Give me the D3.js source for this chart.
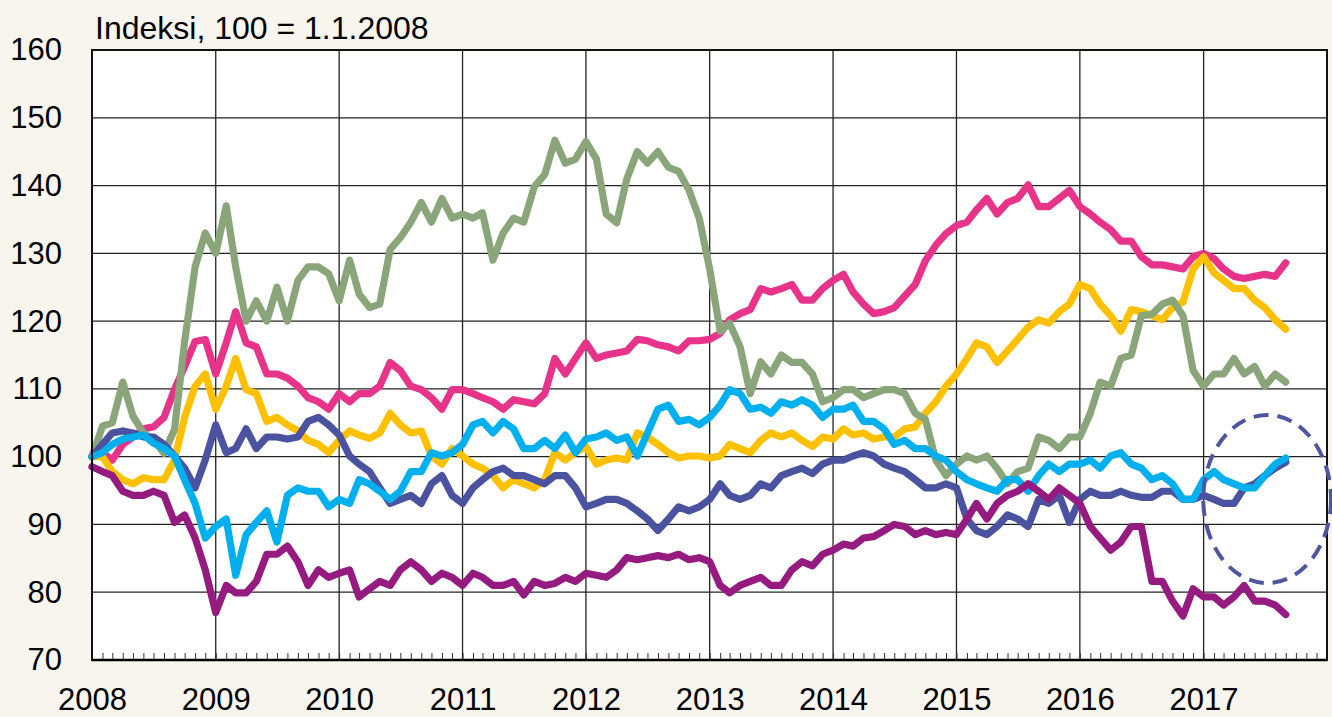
<!DOCTYPE html>
<html>
<head>
<meta charset="utf-8">
<script src="https://cdn.jsdelivr.net/npm/d3@7"></script>
<style>
  html, body { margin: 0; padding: 0; background: #f8f4ee; }
  svg { display: block; font-family: "Liberation Sans", Arial, sans-serif; }
</style>
</head>
<body>
<svg id="chart" width="1332" height="717"></svg>
<script>
// ---- Data (monthly readings, index 100 = 1.1.2008), first value = Jan 2008 ----
const startDate = new Date(2008, 0, 1);
const endDate = new Date(2018, 0, 1);
const yTicks = [70, 80, 90, 100, 110, 120, 130, 140, 150, 160];
const yearLabels = ["2008","2009","2010","2011","2012","2013","2014","2015","2016","2017"];
const titleText = "Indeksi, 100 = 1.1.2008";

const green = [100, 104.5, 105, 111, 106, 103.5, 102.5, 100.5, 104, 117, 128, 133, 130, 137, 128, 120, 123, 120, 125, 120, 126, 128, 128, 127, 123,
  129, 124, 122, 122.5, 130.6, 132.3, 134.6, 137.5, 134.6, 138.1, 135.2, 135.8, 135.2, 136, 129, 133, 135.2, 134.6, 139.8, 141.6, 146.7, 143.3, 143.9, 146.5,
  143.9, 135.8, 134.5, 141, 145, 143.3, 145, 142.7, 142.1, 139.3, 135.2, 127.7, 118.5, 119.7, 116.2, 109.3, 114, 112.2, 115, 113.9, 113.9, 112.2, 108.1,
  108.7, 109.9, 109.9, 108.7, 109.3, 109.9, 109.9, 109.3, 106.4, 105.5, 99.5, 97.2, 98.9, 100.1, 99.5, 100.1, 98.3, 96, 97.8, 98.3, 102.9, 102.4, 101.2, 102.9,
  102.9, 106.4, 111, 110.4, 114.5, 115, 120.8, 121, 122.5, 123.1, 120.8, 112.7, 110.4, 112.2, 112.2, 114.5, 112.2, 113.3, 110.4, 112.2, 111];

const pink = [100, 100.6, 99.5, 101.8, 102.9, 104.1, 104.4, 105.8, 109.9, 113.3, 117, 117.3, 112.2, 116.8, 121.4, 116.8, 116.2, 112.2, 112.2, 111.6, 110.4, 108.7, 108.1, 107, 109.3,
  108.1, 109.3, 109.3, 110.4, 113.9, 112.7, 110.4, 109.9, 108.7, 107, 109.9, 109.9, 109.3, 108.7, 108.1, 107, 108.4, 108.1, 107.8, 109.3, 114.5, 112.2, 114.5, 116.8,
  114.5, 115, 115.3, 115.6, 117.3, 117.1, 116.5, 116.2, 115.6, 117.1, 117.1, 117.3, 118.2, 120.2, 121.1, 121.7, 124.8, 124.3, 124.8, 125.4, 123.1, 123.1, 124.8,
  126, 126.9, 124.3, 122.5, 121.1, 121.4, 122, 123.7, 125.4, 128.9, 131.2, 132.9, 134.1, 134.6, 136.4, 138.1, 135.8, 137.5, 138.1, 140.1, 136.9, 136.9, 138.1, 139.3,
  136.9, 135.8, 134.6, 133.5, 131.8, 131.8, 129.5, 128.3, 128.3, 128, 127.7, 129.5, 130, 129.2, 127.7, 126.6, 126.3, 126.6, 126.9, 126.6, 128.6];

const yellow = [100, 100, 97.8, 96.6, 96, 96.9, 96.6, 96.6, 99.5, 105.8, 110.4, 112.2, 107, 110.4, 114.5, 109.9, 109.3, 105.2, 105.8, 104.7, 103.8, 102.4, 101.8, 100.6, 102.4,
  103.8, 103.2, 102.7, 103.5, 106.4, 104.7, 103.5, 103.8, 100.1, 98.9, 101.2, 100.1, 98.9, 98.3, 97.2, 95.4, 96.6, 96, 95.4, 96.6, 100.6, 99.5, 100.6, 101.5,
  98.9, 99.5, 99.8, 99.5, 103.5, 102.9, 101.8, 100.6, 99.8, 100.1, 100.1, 99.8, 100.1, 101.8, 101.2, 100.6, 102.4, 103.5, 102.9, 103.5, 102.4, 101.5, 102.9,
  102.6, 104.1, 103.2, 103.5, 102.6, 102.9, 102.9, 104.1, 104.4, 106.4, 108.1, 110.4, 112.2, 114.5, 116.8, 116.2, 113.9, 115.6, 117.3, 119.1, 120.2, 119.7, 121.4, 122.5,
  125.4, 124.8, 122.5, 120.8, 118.5, 121.7, 121.4, 120.8, 120.2, 122, 122.8, 127.7, 129.5, 127.1, 126, 124.8, 124.8, 123.1, 122, 120.2, 118.8];

const darkBlue = [100, 101.8, 103.5, 103.8, 103.5, 102.9, 102.9, 101.8, 100.1, 98.3, 95.4, 99.5, 104.7, 100.6, 101.2, 104.1, 101.2, 102.9, 102.9, 102.6, 102.9, 105.2, 105.8, 104.7, 103.2,
  100.1, 98.9, 97.8, 95.4, 93.1, 93.7, 94.3, 93.1, 96, 97.2, 94.3, 93.1, 95.4, 96.6, 97.8, 98.3, 97.2, 97.2, 96.6, 96, 97.2, 97.2, 95.4, 92.6,
  93.1, 93.7, 93.7, 93.1, 92, 90.8, 89.1, 90.8, 92.6, 92, 92.6, 93.7, 96, 94.3, 93.7, 94.3, 96, 95.4, 97.2, 97.8, 98.3, 97.5, 98.9,
  99.5, 99.5, 100.1, 100.6, 100.1, 98.9, 98.3, 97.8, 96.6, 95.4, 95.4, 96, 95.4, 90.8, 89.1, 88.5, 89.7, 91.4, 90.8, 89.7, 93.7, 93.1, 94.3, 90.3,
  93.7, 94.9, 94.3, 94.3, 94.9, 94.3, 94, 94, 94.9, 94.9, 93.7, 93.7, 94.3, 93.7, 93.1, 93.1, 95.4, 96, 97.2, 98.3, 99.2];

const cyan = [100, 100.6, 101.8, 102.6, 102.9, 103.2, 102, 101.2, 100.1, 96.6, 93.1, 88, 89.7, 90.8, 82.5, 88.5, 90.3, 92, 87.4, 94.3, 95.4, 94.9, 94.9, 92.6, 93.7,
  93.1, 96.6, 96, 94.9, 93.7, 94.9, 97.8, 97.8, 100.6, 100.1, 100.6, 101.8, 104.7, 105.2, 103.5, 105.2, 104.1, 101.2, 101.2, 102.4, 101.2, 103.2, 100.6, 102.6,
  102.9, 103.5, 102.4, 102.9, 100.1, 103.5, 107, 107.6, 105.2, 105.5, 104.7, 105.8, 107.6, 109.9, 109.3, 107, 107.3, 106.4, 108.1, 107.6, 108.4, 107.6, 105.8,
  107, 107, 107.6, 105.2, 105.2, 104.1, 101.8, 102.4, 101.2, 101.2, 100.1, 99.5, 97.8, 96.6, 96, 95.4, 94.9, 96.6, 96.6, 94.9, 97.2, 98.9, 97.8, 98.9,
  98.9, 99.5, 98.3, 100.1, 100.6, 98.9, 98.3, 96.6, 97.2, 96, 93.7, 93.7, 96.6, 97.8, 96.6, 96, 95.4, 95.4, 97.2, 98.9, 99.8];

const purple = [98.5, 97.8, 97.2, 94.9, 94.3, 94.3, 94.9, 94.3, 90.3, 91.4, 88, 83.3, 77, 81, 79.9, 79.9, 81.6, 85.6, 85.6, 86.8, 84.5, 81, 83.3, 82.2, 82.8,
  83.3, 79.3, 80.5, 81.6, 81, 83.3, 84.5, 83.3, 81.6, 82.8, 82.2, 81, 82.8, 82.2, 81, 81, 81.6, 79.6, 81.6, 81, 81.3, 82.2, 81.6, 82.8,
  82.5, 82.2, 83.3, 85.1, 84.8, 85.1, 85.4, 85.1, 85.6, 84.8, 85.1, 84.5, 81, 79.9, 81, 81.6, 82.2, 81, 81, 83.3, 84.5, 83.9, 85.6,
  86.2, 87.1, 86.8, 88, 88.2, 89.1, 90, 89.7, 88.5, 89.1, 88.5, 88.8, 88.5, 90.8, 93.1, 90.8, 93.1, 94.3, 94.9, 96, 94.9, 93.7, 95.4, 94.3,
  93.1, 89.7, 88, 86.2, 87.4, 89.7, 89.7, 81.6, 81.6, 78.7, 76.5, 80.5, 79.3, 79.3, 78.1, 79.3, 81, 78.7, 78.7, 78.1, 76.7];

// draw order (bottom to top)
const seriesNames = ["pink", "yellow", "green", "darkBlue", "cyan", "purple"];
const seriesValues = [pink, yellow, green, darkBlue, cyan, purple];
const seriesColors = ["#e8338b", "#ffc000", "#8ba57b", "#4b53a0", "#00b0ee", "#951b80"];

// Dashed ellipse annotation (data coordinates)
const ellipseCenterDate = new Date(2017, 6, 8);
const ellipseCenterValue = 93.75;
const ellipseHalfWidthDays = 189;
const ellipseHalfHeight = 12.4;

// ---- Drawing ----
const svg = d3.select("#chart");
const L = 92, R = 1327, T = 50, B = 660;

const x = d3.scaleTime().domain([startDate, endDate]).range([L, R]);
const y = d3.scaleLinear().domain([70, 160]).range([B, T]);

// plot background
svg.append("rect").attr("x", L).attr("y", T).attr("width", R - L).attr("height", B - T).attr("fill", "#ffffff");

// gridlines
const years = d3.timeYear.range(startDate, endDate);
svg.append("g").selectAll("line").data(yTicks.slice(1, -1)).join("line")
  .attr("x1", L).attr("x2", R).attr("y1", d => y(d)).attr("y2", d => y(d))
  .attr("stroke", "#222").attr("stroke-width", 1.3);
svg.append("g").selectAll("line").data(years.slice(1)).join("line")
  .attr("x1", d => x(d)).attr("x2", d => x(d)).attr("y1", T).attr("y2", B)
  .attr("stroke", "#222").attr("stroke-width", 1.3);

// monthly minor ticks
const minor = svg.append("g").attr("transform", `translate(0,${B})`)
  .call(d3.axisBottom(x).ticks(d3.timeMonth.every(1)).tickSize(-7).tickFormat(""));
minor.select(".domain").remove();
minor.selectAll("line").attr("stroke", "#333").attr("stroke-width", 1);

// series lines
const line = d3.line()
  .x((d, i) => x(d3.timeMonth.offset(startDate, i)))
  .y(d => y(d));
svg.append("g").selectAll("path").data(seriesValues).join("path")
  .attr("d", d => line(d))
  .attr("fill", "none")
  .attr("stroke", (d, i) => seriesColors[i])
  .attr("stroke-width", 7.2)
  .attr("stroke-linejoin", "round")
  .attr("stroke-linecap", "round");

// plot border
svg.append("rect").attr("x", L).attr("y", T).attr("width", R - L).attr("height", B - T)
  .attr("fill", "none").attr("stroke", "#111").attr("stroke-width", 2);
svg.append("line").attr("x1", L).attr("x2", R).attr("y1", B).attr("y2", B)
  .attr("stroke", "#000").attr("stroke-width", 2.5);

// ellipse annotation
const ecx = x(ellipseCenterDate), ecy = y(ellipseCenterValue);
svg.append("ellipse")
  .attr("cx", ecx).attr("cy", ecy)
  .attr("rx", x(d3.timeDay.offset(ellipseCenterDate, ellipseHalfWidthDays)) - ecx)
  .attr("ry", y(ellipseCenterValue - ellipseHalfHeight) - ecy)
  .attr("fill", "none").attr("stroke", "#4f56a0").attr("stroke-width", 4)
  .attr("stroke-dasharray", "15,9");

// y axis labels
const yAxis = svg.append("g").attr("transform", `translate(${L},0)`)
  .call(d3.axisLeft(y).tickValues(yTicks).tickSize(0).tickPadding(30).tickFormat(d3.format("d")));
yAxis.select(".domain").remove();
yAxis.selectAll("text").attr("font-size", 31).attr("fill", "#000")
  .attr("font-family", "Liberation Sans, Arial, sans-serif");

// x axis labels
const xAxis = svg.append("g").attr("transform", `translate(0,${B})`)
  .call(d3.axisBottom(x).tickValues(years).tickSize(0).tickPadding(28)
    .tickFormat((d, i) => yearLabels[i]));
xAxis.select(".domain").remove();
xAxis.selectAll("text").attr("font-size", 31).attr("fill", "#000")
  .attr("font-family", "Liberation Sans, Arial, sans-serif");

// title
svg.append("text").attr("x", 95).attr("y", 39)
  .attr("font-size", 32).attr("fill", "#000").text(titleText);
</script>
</body>
</html>
